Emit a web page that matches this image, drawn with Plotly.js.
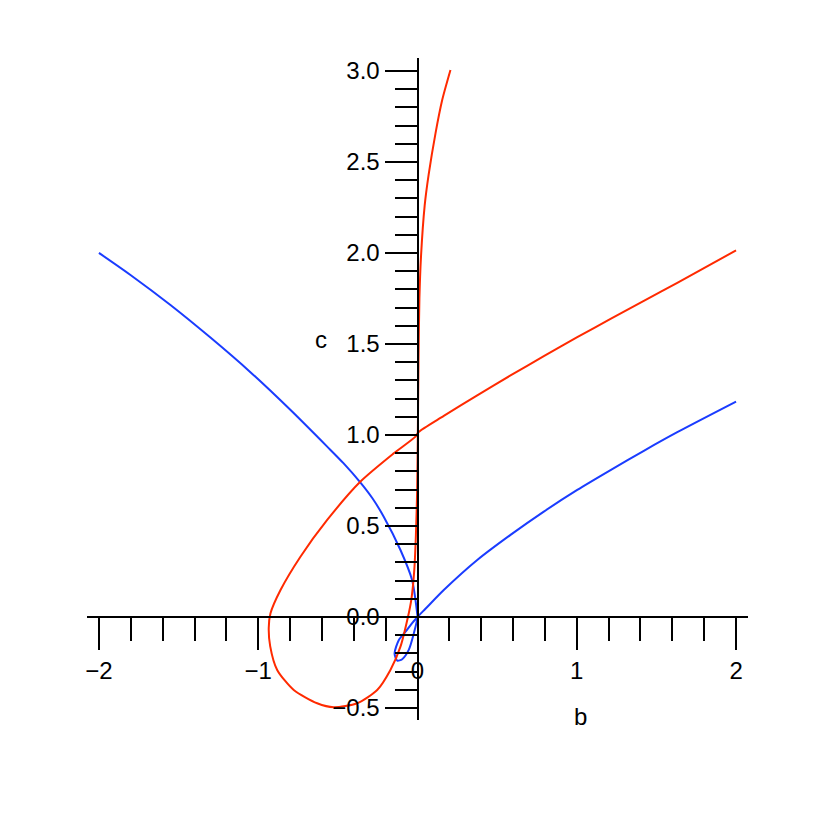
<!DOCTYPE html>
<html>
<head>
<meta charset="utf-8">
<script src="https://cdn.plot.ly/plotly-3.0.1.min.js"></script>
<style>
  body { margin: 0; background: #fff; }
  #plot { width: 830px; height: 830px; }
</style>
</head>
<body>
<div id="plot"></div>
<script>
// blue curve (b, c)
const blueB = [-2.0, -1.802, -1.551, -1.3, -1.049, -0.797, -0.567, -0.465, -0.358, -0.283, -0.212, -0.107, -0.034, -0.002, 0.0,
  -0.023, -0.055, -0.096, -0.127, -0.144, -0.117, -0.075, -0.035, 0.0,
  0.05, 0.165, 0.375, 0.584, 0.793, 1.003, 1.212, 1.421, 1.631, 2.0];
const blueC = [2.0, 1.879, 1.714, 1.535, 1.345, 1.137, 0.936, 0.845, 0.738, 0.652, 0.551, 0.368, 0.203, 0.02, 0.0,
  -0.09, -0.181, -0.232, -0.24, -0.2, -0.126, -0.081, -0.035, 0.0,
  0.045, 0.148, 0.313, 0.451, 0.579, 0.698, 0.807, 0.913, 1.015, 1.183];

// red curve
const redB = [2.0, 1.631, 1.421, 1.212, 1.003, 0.793, 0.584, 0.375, 0.165, 0.005,
  -0.013, -0.149, -0.358, -0.567, -0.735, -0.86, -0.923, -0.934, -0.925, -0.881, -0.777, -0.63, -0.526,
  -0.379, -0.253, -0.17, -0.107, -0.06, -0.038, -0.02, -0.01,
  -0.002, 0.002, 0.006, 0.012, 0.022, 0.045, 0.07, 0.113, 0.155, 0.207];
const redC = [2.014, 1.836, 1.737, 1.638, 1.537, 1.433, 1.327, 1.218, 1.105, 1.015,
  0.991, 0.899, 0.744, 0.533, 0.331, 0.148, 0.02, -0.06, -0.16, -0.291, -0.401, -0.474, -0.496,
  -0.474, -0.401, -0.291, -0.163, 0.0, 0.1, 0.26, 0.45,
  0.7, 1.0, 1.4, 1.75, 1.98, 2.26, 2.43, 2.657, 2.84, 3.005];

const xRange = [-2.075, 2.075];
const yRange = [-0.566, 3.071];

const fnt = {family: 'Liberation Sans, Arial, sans-serif', size: 24, color: '#000'};

let blue = {
  x: blueB, y: blueC, type: 'scatter', mode: 'lines',
  line: {color: '#1a3cff', width: 2, shape: 'spline', smoothing: 0.7}, hoverinfo: 'skip'
};
let red = {
  x: redB, y: redC, type: 'scatter', mode: 'lines',
  line: {color: '#ff2a00', width: 2, shape: 'spline', smoothing: 0.7}, hoverinfo: 'skip'
};

// axes cross at the origin
let layout = {
  width: 830,
  height: 830,
  margin: {l: 87, r: 82, t: 58, b: 110},
  showlegend: false,
  paper_bgcolor: '#fff',
  plot_bgcolor: '#fff',
  font: fnt,
  xaxis: {
    range: xRange,
    anchor: 'free',
    position: (0 - yRange[0]) / (yRange[1] - yRange[0]),
    showline: true, linecolor: '#000', linewidth: 2,
    ticks: 'outside', ticklen: 32, tickwidth: 2, tickcolor: '#000',
    tick0: 0, dtick: 1,
    minor: {ticks: 'outside', tick0: 0, dtick: 0.2, ticklen: 23, tickwidth: 2, tickcolor: '#000', showgrid: false},
    showgrid: false, zeroline: false, automargin: false,
    tickfont: fnt
  },
  yaxis: {
    range: yRange,
    anchor: 'free',
    position: (0 - xRange[0]) / (xRange[1] - xRange[0]),
    showline: true, linecolor: '#000', linewidth: 2,
    ticks: 'outside', ticklen: 32, tickwidth: 2, tickcolor: '#000',
    tick0: 0, dtick: 0.5, tickformat: '.1f',
    minor: {ticks: 'outside', tick0: 0, dtick: 0.1, ticklen: 22, tickwidth: 2, tickcolor: '#000', showgrid: false},
    showgrid: false, zeroline: false, automargin: false,
    tickfont: fnt
  },
  annotations: [
    {text: 'b', x: 1.024, y: -0.549, xref: 'x', yref: 'y', showarrow: false, font: fnt},
    {text: 'c', x: -0.609, y: 1.522, xref: 'x', yref: 'y', showarrow: false, font: fnt}
  ]
};

Plotly.newPlot('plot', [blue, red], layout, {staticPlot: true});
</script>
</body>
</html>
